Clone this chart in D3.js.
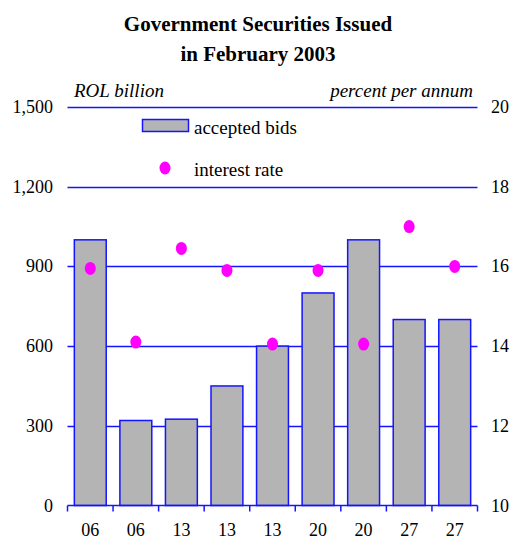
<!DOCTYPE html>
<html>
<head>
<meta charset="utf-8">
<script src="https://cdn.jsdelivr.net/npm/d3@7/dist/d3.min.js"></script>
<style>
  html, body { margin: 0; padding: 0; background: #fff; }
  svg { display: block; }
  text { font-family: "Liberation Serif", "Times New Roman", serif; fill: #000; }
</style>
</head>
<body>
<svg id="chart" width="514" height="540"></svg>
<script>
// Auction dates (day of February 2003)
const categories = ["06", "06", "13", "13", "13", "20", "20", "27", "27"];
// Accepted bids, ROL billion
const acceptedBids = [1000, 320, 325, 450, 600, 800, 1000, 700, 700];
// Interest rate, percent per annum
const interestRate = [15.95, 14.1, 16.45, 15.9, 14.05, 15.9, 14.05, 17.0, 16.0];
// Axis ticks
const leftTicks = [0, 300, 600, 900, 1200, 1500];
const rightTicks = [10, 12, 14, 16, 18, 20];

const blue = "#1414ff";
const magenta = "#ff00ff";
const barFill = "#b4b4b4";

const svg = d3.select("#chart");
const plotLeft = 67.5, plotRight = 477.5, plotTop = 107, plotBottom = 505.5;

const x = d3.scaleBand()
  .domain(d3.range(categories.length))
  .range([plotLeft, plotRight])
  .paddingInner(0.3)
  .paddingOuter(0.15);

const xTicks = d3.scaleBand()
  .domain(d3.range(categories.length))
  .range([plotLeft, plotRight]);

const yL = d3.scaleLinear().domain([0, 1500]).range([plotBottom, plotTop]);
const yR = d3.scaleLinear().domain([10, 20]).range([plotBottom, plotTop]);

// Title
const title = svg.append("g").attr("text-anchor", "middle")
  .style("font-weight", "bold").style("font-size", "21px");
title.append("text").attr("x", 258).attr("y", 31).text("Government Securities Issued");
title.append("text").attr("x", 258).attr("y", 61).text("in February 2003");

// Unit labels
svg.append("text").attr("x", 74).attr("y", 97)
  .style("font-style", "italic").style("font-size", "19px").text("ROL billion");
svg.append("text").attr("x", 473).attr("y", 97).attr("text-anchor", "end")
  .style("font-style", "italic").style("font-size", "19px").text("percent per annum");

// Horizontal gridlines
svg.append("g").selectAll("line")
  .data(leftTicks.filter(d => d > 0))
  .join("line")
  .attr("x1", plotLeft).attr("x2", plotRight)
  .attr("y1", d => Math.round(yL(d)) + 0.5).attr("y2", d => Math.round(yL(d)) + 0.5)
  .attr("stroke", blue).attr("stroke-width", 1.3);

// Left tick labels
svg.append("g").selectAll("text")
  .data(leftTicks)
  .join("text")
  .attr("x", 53).attr("y", d => yL(d) + 6)
  .attr("text-anchor", "end").style("font-size", "18px")
  .text(d => d3.format(",")(d));

// Right tick labels
svg.append("g").selectAll("text")
  .data(rightTicks)
  .join("text")
  .attr("x", 491).attr("y", d => yR(d) + 6)
  .style("font-size", "18px")
  .text(d => d);

// Bars
svg.append("g").selectAll("rect")
  .data(acceptedBids)
  .join("rect")
  .attr("x", (d, i) => x(i))
  .attr("width", x.bandwidth())
  .attr("y", d => yL(d))
  .attr("height", d => yL(0) - yL(d))
  .attr("fill", barFill)
  .attr("stroke", blue).attr("stroke-width", 1.5);

// Bottom axis
const xAxis = svg.append("g");
xAxis.append("line")
  .attr("x1", plotLeft).attr("x2", plotRight)
  .attr("y1", plotBottom).attr("y2", plotBottom)
  .attr("stroke", blue).attr("stroke-width", 1.5);
xAxis.selectAll("line.tick")
  .data(d3.range(categories.length + 1))
  .join("line").attr("class", "tick")
  .attr("x1", i => plotLeft + i * xTicks.step()).attr("x2", i => plotLeft + i * xTicks.step())
  .attr("y1", plotBottom).attr("y2", plotBottom + 6)
  .attr("stroke", blue).attr("stroke-width", 1.5);
xAxis.selectAll("text")
  .data(categories)
  .join("text")
  .attr("x", (d, i) => xTicks(i) + xTicks.bandwidth() / 2)
  .attr("y", 536)
  .attr("text-anchor", "middle").style("font-size", "18px")
  .text(d => d);

// Interest rate dots
svg.append("g").selectAll("ellipse")
  .data(interestRate)
  .join("ellipse")
  .attr("cx", (d, i) => x(i) + x.bandwidth() / 2)
  .attr("cy", d => yR(d))
  .attr("rx", 5.5).attr("ry", 6.5)
  .attr("fill", magenta);

// Legend
const legend = svg.append("g");
legend.append("rect")
  .attr("x", 142.5).attr("y", 119.5).attr("width", 46).attr("height", 12)
  .attr("fill", barFill).attr("stroke", blue).attr("stroke-width", 1.5);
legend.append("text").attr("x", 194).attr("y", 134)
  .style("font-size", "19px").text("accepted bids");
legend.append("ellipse")
  .attr("cx", 165).attr("cy", 168).attr("rx", 5.5).attr("ry", 6.5)
  .attr("fill", magenta);
legend.append("text").attr("x", 194).attr("y", 176)
  .style("font-size", "19px").text("interest rate");
</script>
</body>
</html>
